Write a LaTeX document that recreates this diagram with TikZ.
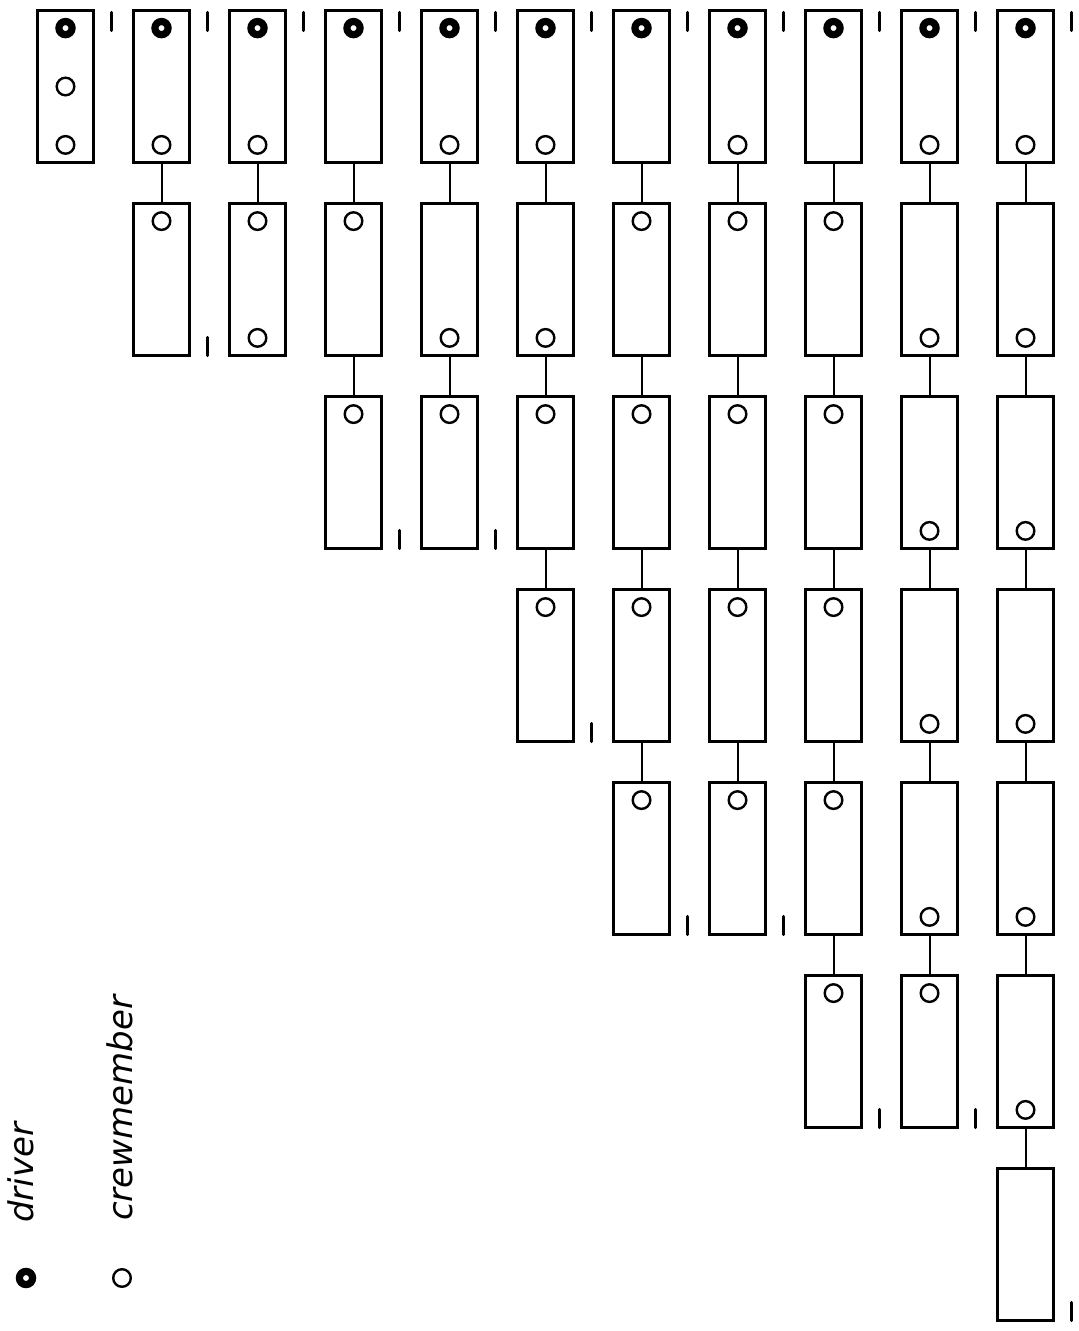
\documentclass[tikz,border=0pt]{standalone}
\usepackage{fontspec}
\usepackage{tikz}
\usetikzlibrary{positioning}
\newfontfamily\handfont{DejaVu Sans}

\begin{document}
\begin{tikzpicture}
  [x=0.5pt, y=-0.5pt, node distance=20.5pt and 20pt,
   car/.style={draw, line width=1.5pt, minimum width=28pt, minimum height=76pt, inner sep=0pt, outer sep=0pt},
   link/.style={line width=1pt},
   driver/.style={line width=3.6pt},
   crew/.style={line width=1.2pt},
   numeral/.style={line width=1.6pt, line cap=round},
   legend text/.style={rotate=90, anchor=base west, font=\handfont\itshape\fontsize{17}{20}\selectfont}]

\useasboundingbox (0,0) rectangle (1079,1331);

% first car of each column
\node[car] (1-1) at (65.5,86.5) {};
\node[car] (2-1) [right=of 1-1] {};
\node[car] (3-1) [right=of 2-1] {};
\node[car] (4-1) [right=of 3-1] {};
\node[car] (5-1) [right=of 4-1] {};
\node[car] (6-1) [right=of 5-1] {};
\node[car] (7-1) [right=of 6-1] {};
\node[car] (8-1) [right=of 7-1] {};
\node[car] (9-1) [right=of 8-1] {};
\node[car] (10-1) [right=of 9-1] {};
\node[car] (11-1) [right=of 10-1] {};

% cars hanging below
\node[car] (2-2) [below=of 2-1] {};
\node[car] (3-2) [below=of 3-1] {};
\node[car] (4-2) [below=of 4-1] {};
\node[car] (4-3) [below=of 4-2] {};
\node[car] (5-2) [below=of 5-1] {};
\node[car] (5-3) [below=of 5-2] {};
\node[car] (6-2) [below=of 6-1] {};
\node[car] (6-3) [below=of 6-2] {};
\node[car] (6-4) [below=of 6-3] {};
\node[car] (7-2) [below=of 7-1] {};
\node[car] (7-3) [below=of 7-2] {};
\node[car] (7-4) [below=of 7-3] {};
\node[car] (7-5) [below=of 7-4] {};
\node[car] (8-2) [below=of 8-1] {};
\node[car] (8-3) [below=of 8-2] {};
\node[car] (8-4) [below=of 8-3] {};
\node[car] (8-5) [below=of 8-4] {};
\node[car] (9-2) [below=of 9-1] {};
\node[car] (9-3) [below=of 9-2] {};
\node[car] (9-4) [below=of 9-3] {};
\node[car] (9-5) [below=of 9-4] {};
\node[car] (9-6) [below=of 9-5] {};
\node[car] (10-2) [below=of 10-1] {};
\node[car] (10-3) [below=of 10-2] {};
\node[car] (10-4) [below=of 10-3] {};
\node[car] (10-5) [below=of 10-4] {};
\node[car] (10-6) [below=of 10-5] {};
\node[car] (11-2) [below=of 11-1] {};
\node[car] (11-3) [below=of 11-2] {};
\node[car] (11-4) [below=of 11-3] {};
\node[car] (11-5) [below=of 11-4] {};
\node[car] (11-6) [below=of 11-5] {};
\node[car] (11-7) [below=of 11-6] {};

\path
  (2-1) edge [link] (2-2)
  (3-1) edge [link] (3-2)
  (4-1) edge [link] (4-2)  (4-2) edge [link] (4-3)
  (5-1) edge [link] (5-2)  (5-2) edge [link] (5-3)
  (6-1) edge [link] (6-2)  (6-2) edge [link] (6-3)  (6-3) edge [link] (6-4)
  (7-1) edge [link] (7-2)  (7-2) edge [link] (7-3)  (7-3) edge [link] (7-4)  (7-4) edge [link] (7-5)
  (8-1) edge [link] (8-2)  (8-2) edge [link] (8-3)  (8-3) edge [link] (8-4)  (8-4) edge [link] (8-5)
  (9-1) edge [link] (9-2)  (9-2) edge [link] (9-3)  (9-3) edge [link] (9-4)  (9-4) edge [link] (9-5)
  (9-5) edge [link] (9-6)
  (10-1) edge [link] (10-2)  (10-2) edge [link] (10-3)  (10-3) edge [link] (10-4)  (10-4) edge [link] (10-5)
  (10-5) edge [link] (10-6)
  (11-1) edge [link] (11-2)  (11-2) edge [link] (11-3)  (11-3) edge [link] (11-4)  (11-4) edge [link] (11-5)
  (11-5) edge [link] (11-6)  (11-6) edge [link] (11-7);

% drivers
\draw[driver]
  ([yshift=-8.8pt]1-1.north) circle (3.3pt)  ([yshift=-8.8pt]2-1.north) circle (3.3pt)
  ([yshift=-8.8pt]3-1.north) circle (3.3pt)  ([yshift=-8.8pt]4-1.north) circle (3.3pt)
  ([yshift=-8.8pt]5-1.north) circle (3.3pt)  ([yshift=-8.8pt]6-1.north) circle (3.3pt)
  ([yshift=-8.8pt]7-1.north) circle (3.3pt)  ([yshift=-8.8pt]8-1.north) circle (3.3pt)
  ([yshift=-8.8pt]9-1.north) circle (3.3pt)  ([yshift=-8.8pt]10-1.north) circle (3.3pt)
  ([yshift=-8.8pt]11-1.north) circle (3.3pt);

% crewmembers near the front of a car
\draw[crew]
  (1-1) circle (4.4pt)
  ([yshift=-8.8pt]2-2.north) circle (4.4pt)  ([yshift=-8.8pt]3-2.north) circle (4.4pt)
  ([yshift=-8.8pt]4-2.north) circle (4.4pt)  ([yshift=-8.8pt]4-3.north) circle (4.4pt)
  ([yshift=-8.8pt]5-3.north) circle (4.4pt)
  ([yshift=-8.8pt]6-3.north) circle (4.4pt)  ([yshift=-8.8pt]6-4.north) circle (4.4pt)
  ([yshift=-8.8pt]7-2.north) circle (4.4pt)  ([yshift=-8.8pt]7-3.north) circle (4.4pt)
  ([yshift=-8.8pt]7-4.north) circle (4.4pt)  ([yshift=-8.8pt]7-5.north) circle (4.4pt)
  ([yshift=-8.8pt]8-2.north) circle (4.4pt)  ([yshift=-8.8pt]8-3.north) circle (4.4pt)
  ([yshift=-8.8pt]8-4.north) circle (4.4pt)  ([yshift=-8.8pt]8-5.north) circle (4.4pt)
  ([yshift=-8.8pt]9-2.north) circle (4.4pt)  ([yshift=-8.8pt]9-3.north) circle (4.4pt)
  ([yshift=-8.8pt]9-4.north) circle (4.4pt)  ([yshift=-8.8pt]9-5.north) circle (4.4pt)
  ([yshift=-8.8pt]9-6.north) circle (4.4pt)
  ([yshift=-8.8pt]10-6.north) circle (4.4pt);

% crewmembers near the back of a car
\draw[crew]
  ([yshift=8.8pt]1-1.south) circle (4.4pt)  ([yshift=8.8pt]2-1.south) circle (4.4pt)
  ([yshift=8.8pt]3-1.south) circle (4.4pt)  ([yshift=8.8pt]3-2.south) circle (4.4pt)
  ([yshift=8.8pt]5-1.south) circle (4.4pt)  ([yshift=8.8pt]5-2.south) circle (4.4pt)
  ([yshift=8.8pt]6-1.south) circle (4.4pt)  ([yshift=8.8pt]6-2.south) circle (4.4pt)
  ([yshift=8.8pt]8-1.south) circle (4.4pt)
  ([yshift=8.8pt]10-1.south) circle (4.4pt)  ([yshift=8.8pt]10-2.south) circle (4.4pt)
  ([yshift=8.8pt]10-3.south) circle (4.4pt)  ([yshift=8.8pt]10-4.south) circle (4.4pt)
  ([yshift=8.8pt]10-5.south) circle (4.4pt)
  ([yshift=8.8pt]11-1.south) circle (4.4pt)  ([yshift=8.8pt]11-2.south) circle (4.4pt)
  ([yshift=8.8pt]11-3.south) circle (4.4pt)  ([yshift=8.8pt]11-4.south) circle (4.4pt)
  ([yshift=8.8pt]11-5.south) circle (4.4pt)  ([yshift=8.8pt]11-6.south) circle (4.4pt);

% small strokes beside the head and tail of each train
\draw[numeral]
  ([xshift=9pt,yshift=-1pt]1-1.north east) -- +(0,-9pt)
  ([xshift=9pt,yshift=-1pt]2-1.north east) -- +(0,-9pt)
  ([xshift=9pt,yshift=-1pt]3-1.north east) -- +(0,-9pt)
  ([xshift=9pt,yshift=-1pt]4-1.north east) -- +(0,-9pt)
  ([xshift=9pt,yshift=-1pt]5-1.north east) -- +(0,-9pt)
  ([xshift=9pt,yshift=-1pt]6-1.north east) -- +(0,-9pt)
  ([xshift=9pt,yshift=-1pt]7-1.north east) -- +(0,-9pt)
  ([xshift=9pt,yshift=-1pt]8-1.north east) -- +(0,-9pt)
  ([xshift=9pt,yshift=-1pt]9-1.north east) -- +(0,-9pt)
  ([xshift=9pt,yshift=-1pt]10-1.north east) -- +(0,-9pt)
  ([xshift=9pt,yshift=-1pt]11-1.north east) -- +(0,-9pt)
  ([xshift=9pt]2-2.south east) -- +(0,9pt)
  ([xshift=9pt]4-3.south east) -- +(0,9pt)
  ([xshift=9pt]5-3.south east) -- +(0,9pt)
  ([xshift=9pt]6-4.south east) -- +(0,9pt)
  ([xshift=9pt]7-5.south east) -- +(0,9pt)
  ([xshift=9pt]8-5.south east) -- +(0,9pt)
  ([xshift=9pt]9-6.south east) -- +(0,9pt)
  ([xshift=9pt]10-6.south east) -- +(0,9pt)
  ([xshift=9pt]11-7.south east) -- +(0,9pt);

% legend
\node (driver) [legend text] at (33,1230) {driver};
\node (crewmember) [legend text] at (132,1228) {crewmember};
\draw[driver] (26,1278) circle (3.3pt);
\draw[crew] (122,1278) circle (4.4pt);

\end{tikzpicture}
\end{document}
